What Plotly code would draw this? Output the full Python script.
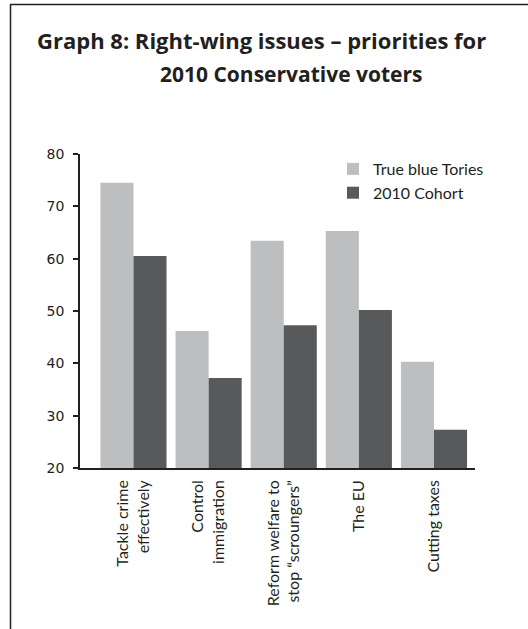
import plotly.graph_objects as go

categories = ["Tackle crime<br>effectively", "Control<br>immigration",
              "Reform welfare to<br>stop “scroungers”", "The EU", "Cutting taxes"]
true_blue = [74.5, 46.2, 63.4, 65.3, 40.3]
cohort_2010 = [60.5, 37.2, 47.3, 50.2, 27.3]
y_ticks = [20, 30, 40, 50, 60, 70, 80]

W, H = 528, 629
L, R, T, B = 80, 53, 154, 161
pw, ph = W - L - R, H - T - B

def px(x):
    return (x - L) / pw

def py(y):
    return (H - B - y) / ph

fig = go.Figure()
fig.add_trace(go.Bar(x=list(range(len(categories))), y=true_blue, name="True blue Tories",
                     marker=dict(color="#BDBEC0", line=dict(width=0))))
fig.add_trace(go.Bar(x=list(range(len(categories))), y=cohort_2010, name="2010 Cohort",
                     marker=dict(color="#58595B", line=dict(width=0))))

font_main = "Lato, 'Open Sans', sans-serif"
font_title = "'Open Sans', Lato, sans-serif"

fig.update_layout(
    width=W, height=H,
    margin=dict(l=L, r=R, t=T, b=B, pad=0),
    paper_bgcolor="white", plot_bgcolor="white",
    barmode="group", bargap=0.12, bargroupgap=0,
    showlegend=True,
    legend=dict(x=px(333), y=py(152), xanchor="left", yanchor="top",
                font=dict(family=font_main, size=16, color="#231F20"),
                bgcolor="rgba(0,0,0,0)", tracegroupgap=0, itemwidth=30),
    xaxis=dict(range=[-0.712, 4.546], tickmode="array",
               tickvals=list(range(len(categories))), ticktext=categories,
               tickangle=-90, showgrid=False, zeroline=False,
               showline=True, linecolor="#231F20", linewidth=1.5, ticks="",
               tickfont=dict(family=font_main, size=16, color="#231F20"),
               ticklabelstandoff=4),
    yaxis=dict(range=[20, 80], tickvals=y_ticks, showgrid=False, zeroline=False,
               showline=True, linecolor="#231F20", linewidth=1.5,
               ticks="outside", ticklen=5, tickwidth=1.5, tickcolor="#231F20",
               tickfont=dict(family="DejaVu Sans, sans-serif", size=14, color="#231F20"),
               ticklabelstandoff=6),
)

fig.add_annotation(text="<b>Graph 8: Right-wing issues – priorities for</b>",
                   xref="paper", yref="paper", x=px(261), y=py(39.5),
                   xanchor="center", yanchor="middle", showarrow=False,
                   font=dict(family=font_title, size=22, color="#231F20"))
fig.add_annotation(text="<b>2010 Conservative voters</b>",
                   xref="paper", yref="paper", x=px(291), y=py(74.5),
                   xanchor="center", yanchor="middle", showarrow=False,
                   font=dict(family=font_title, size=21, color="#231F20"))

# frame border (left and top edges visible)
fig.add_shape(type="line", xref="paper", yref="paper",
              x0=px(10.5), x1=px(10.5), y0=py(640), y1=py(4),
              line=dict(color="#231F20", width=1.5))
fig.add_shape(type="line", xref="paper", yref="paper",
              x0=px(10), x1=px(540), y0=py(4.5), y1=py(4.5),
              line=dict(color="#231F20", width=1.5))

fig.write_html("out.html", config={"displayModeBar": False},
               post_script="document.body.style.margin='0';document.body.style.overflow='hidden';")
